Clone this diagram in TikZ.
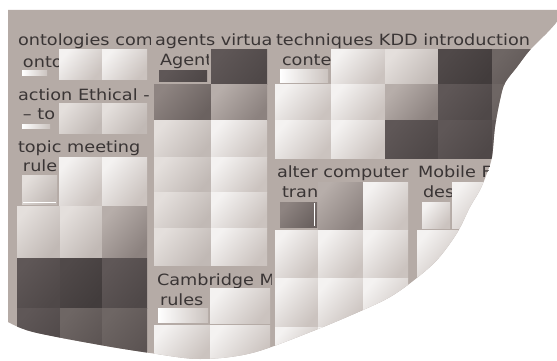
\documentclass[tikz,border=0pt]{standalone}
\usepackage{fontspec}
\newfontfamily\labfont[FakeStretch=1.14]{DejaVu Sans}

% palette of the cushion tiles (light end, dark end)
\definecolor{band}{HTML}{B5ABA6}
\definecolor{labtxt}{HTML}{3A3535}
\definecolor{LA}{HTML}{F4F2F1}\definecolor{LB}{HTML}{CBC3BF}
\definecolor{KA}{HTML}{E4DFDC}\definecolor{KB}{HTML}{C1B9B5}
\definecolor{MA}{HTML}{B7AEAA}\definecolor{MB}{HTML}{8C827F}
\definecolor{NA}{HTML}{8E8481}\definecolor{NB}{HTML}{6B6260}
\definecolor{PA}{HTML}{6E6664}\definecolor{PB}{HTML}{5B5352}
\definecolor{DA}{HTML}{5F5757}\definecolor{DB}{HTML}{4F4848}
\definecolor{EA}{HTML}{504949}\definecolor{EB}{HTML}{423C3C}

% one shaded tile: x0 y0 x1 y1 lightcolour darkcolour
\newcommand\tile[6]{\shade[top color=#5, bottom color=#6, shading angle=50] (#1,#2) rectangle (#3,#4);}
% thin light bar
\newcommand\lbar[4]{\shade[left color=white, right color=LB] (#1,#2) rectangle (#3,#4);}
% clipped label: name, x, y(baseline), clip right, text
\newcommand\lab[5]{\begin{scope}\clip (#2-2,#3-22) rectangle (#4,#3+6);
  \node[lab] (#1) at (#2,#3) {#5};\end{scope}}

\begin{document}
\begin{tikzpicture}[x=1pt,y=-1pt,
  lab/.style={anchor=base west, inner sep=0pt, outer sep=0pt, text=labtxt,
              font=\labfont\fontsize{15.5}{15.5}\selectfont}]
\useasboundingbox (0,0) rectangle (557,361);
\begin{scope}
\clip (8,10) -- (557,10) -- plot[smooth, tension=0.55] coordinates {
  (557,22) (547,33) (530,50) (517,67) (505,83) (500,100) (495,127)
  (492,157) (487,173) (480,190) (470,207) (457,233) (437,260) (413,281)
  (390,297) (363,310) (313,331) (252,353) (200,359) (150,353) (100,345)
  (33,332) (8,322)} -- cycle;
\fill[band] (0,0) rectangle (557,361);

% labels
\lab{hont}{18}{46}{150}{ontologies com}
\lab{hag}{155}{46}{275}{agents virtua}
\lab{htech}{276}{46}{545}{techniques KDD introduction}
\lab{sonto}{23}{67}{59}{onto}
\lab{sact}{18}{100}{150}{action Ethical -}
\lab{sto}{23}{119}{59}{– to}
\lab{stopic}{18}{152}{150}{topic meeting}
\lab{srule}{23}{171}{59}{rule}
\lab{sagent}{160}{66}{208}{Agent}
\lab{sconte}{282}{66}{331}{conte}
\lab{salter}{277}{177}{412}{alter computer}
\lab{stran}{282}{197}{318}{tran}
\lab{smob}{418}{177}{495}{Mobile F}
\lab{sdes}{423}{197}{452}{des}
\lab{scam}{157}{285}{271}{Cambridge M}
\lab{srules}{160}{305}{210}{rules}

% left group
\tile{59}{50}{102}{80}{LA}{LB}
\tile{102}{50}{147}{80}{LA}{LB}
\lbar{22}{71}{47}{76}
\tile{59}{103}{102}{133}{KA}{KB}
\tile{102}{103}{147}{133}{KA}{KB}
\lbar{22}{124}{50}{128}
\tile{22}{175}{57}{204}{KA}{KB}
\draw[white, line width=1pt] (23,202.5) -- (56,202.5);
\tile{59}{157}{102}{205}{LA}{LB}
\tile{102}{157}{147}{205}{LA}{LB}
\tile{17}{206}{60}{257}{KA}{KB}
\tile{60}{206}{102}{257}{KA}{KB}
\tile{102}{206}{147}{257}{MA}{MB}
\tile{17}{258}{60}{308}{DA}{DB}
\tile{60}{258}{102}{308}{EA}{EB}
\tile{102}{258}{147}{308}{DA}{DB}
\tile{17}{308}{60}{361}{DA}{DB}
\tile{60}{308}{102}{361}{PA}{PB}
\tile{102}{308}{147}{361}{PA}{PB}

% middle group
\tile{159}{71}{207}{82}{DA}{DB}
\tile{211}{50}{267}{85}{DA}{DB}
\tile{154}{85}{211}{120}{NA}{NB}
\tile{211}{85}{267}{120}{MA}{MB}
\foreach \ya/\yb in {120/157,157/192,192/228,228/265}{
  \tile{154}{\ya}{211}{\yb}{KA}{KB}
  \tile{211}{\ya}{267}{\yb}{LA}{LB}}
\lbar{158}{308}{208}{322}
\tile{210}{288}{270}{323}{LA}{LB}
\tile{154}{325}{210}{361}{LA}{LB}
\tile{210}{325}{270}{361}{LA}{LB}

% right group
\lbar{280}{70}{328}{83}
\tile{331}{50}{385}{85}{LA}{LB}
\tile{385}{50}{438}{85}{KA}{KB}
\tile{438}{50}{492}{85}{EA}{EB}
\tile{492}{50}{545}{85}{PA}{PB}
\tile{275}{85}{331}{120}{LA}{LB}
\tile{331}{85}{385}{120}{LA}{LB}
\tile{385}{85}{438}{120}{MA}{MB}
\tile{438}{85}{492}{120}{DA}{DB}
\tile{492}{85}{545}{120}{PA}{PB}
\tile{275}{120}{331}{158}{LA}{LB}
\tile{331}{120}{385}{158}{LA}{LB}
\tile{385}{120}{438}{158}{DA}{DB}
\tile{438}{120}{492}{158}{DA}{DB}
\tile{492}{120}{545}{158}{DA}{DB}
\tile{280}{202}{317}{227}{NA}{NB}
\draw[white, line width=1pt] (314.5,203) -- (314.5,226);
\tile{318}{182}{363}{230}{MA}{MB}
\tile{363}{182}{408}{230}{LA}{LB}
\tile{422}{202}{450}{228}{LA}{LB}
\tile{452}{182}{495}{228}{LA}{LB}
\foreach \ya/\yb in {230/278,278/327,327/361}{
  \tile{275}{\ya}{318}{\yb}{LA}{LB}
  \tile{318}{\ya}{363}{\yb}{LA}{LB}
  \tile{363}{\ya}{408}{\yb}{LA}{LB}
  \tile{417}{\ya}{460}{\yb}{LA}{LB}}
\end{scope}
\end{tikzpicture}
\end{document}
